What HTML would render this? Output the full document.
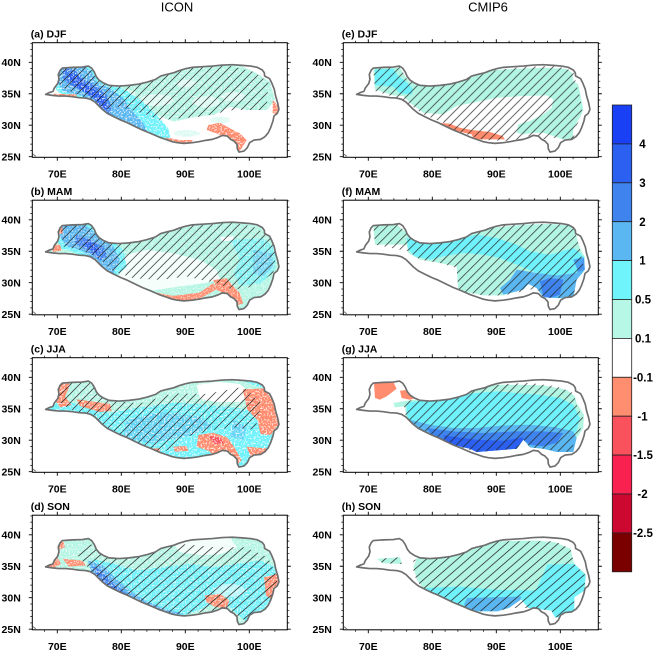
<!DOCTYPE html>
<html><head><meta charset="utf-8"><style>
html,body{margin:0;padding:0;background:#fff;}
svg{display:block;}
text{font-family:"Liberation Sans",Arial,sans-serif;fill:#000;}
.m{fill:#b2f5e2}.c{fill:#6ff2fb}.lb{fill:#5bb7f1}.b3{fill:#3f83ee}.b2{fill:#2b60f0}.r1{fill:#ff8c6e}.r2{fill:#f9525c}.w{fill:#fff}.h{fill:url(#hat)}
.ol{fill:none;stroke:#6e6e6e;stroke-width:5;stroke-linejoin:round}
.lab{font-size:10.5px;font-weight:bold}
</style></head><body>
<svg width="660" height="650" viewBox="0 0 660 650" xmlns="http://www.w3.org/2000/svg">
<defs>
<pattern id="hat" patternUnits="userSpaceOnUse" width="27" height="27"><path d="M-4,4 L4,-4 M0,27 L27,0 M23,31 L31,23" stroke="#222" stroke-width="2.1"/></pattern>
<filter id="spk" filterUnits="userSpaceOnUse" x="0" y="0" width="770" height="350">
<feTurbulence type="fractalNoise" baseFrequency="0.2" numOctaves="2" seed="5" result="n"/>
<feColorMatrix in="n" type="matrix" values="0 0 0 0 1  0 0 0 0 1  0 0 0 0 1  9 0 0 0 -4.8"/>
</filter>
<filter id="spk2" filterUnits="userSpaceOnUse" x="0" y="0" width="770" height="350">
<feTurbulence type="fractalNoise" baseFrequency="0.22" numOctaves="2" seed="11" result="n"/>
<feColorMatrix in="n" type="matrix" values="0 0 0 0 1  0 0 0 0 1  0 0 0 0 1  9 0 0 0 -4.6"/>
</filter>
<clipPath id="tpc"><path d="M40,155 L50,150 62,146 66,136 72,128 76,123 80,110 78,95 84,82 90,76 120,74 150,73 168,70 178,76 186,88 192,102 200,112 212,120 230,128 260,130 290,128 320,124 345,118 370,110 385,100 400,96 425,90 440,84 460,78 480,74 510,72 540,70 570,67 600,66 630,68 655,70 675,74 690,82 696,90 697,100 712,108 718,120 726,140 730,160 736,180 740,200 735,212 725,220 722,235 715,255 708,270 698,282 685,290 665,292 652,300 645,315 635,325 620,328 615,318 614,305 605,295 595,290 585,280 570,278 555,285 540,290 520,293 500,297 480,300 455,302 435,300 420,297 400,290 380,283 355,272 330,262 305,250 285,240 265,232 245,222 225,212 210,200 198,188 188,178 175,170 160,166 140,165 120,162 100,160 80,160 60,158 Z"/></clipPath>
<path id="tpo" class="ol" d="M40,155 L50,150 62,146 66,136 72,128 76,123 80,110 78,95 84,82 90,76 120,74 150,73 168,70 178,76 186,88 192,102 200,112 212,120 230,128 260,130 290,128 320,124 345,118 370,110 385,100 400,96 425,90 440,84 460,78 480,74 510,72 540,70 570,67 600,66 630,68 655,70 675,74 690,82 696,90 697,100 712,108 718,120 726,140 730,160 736,180 740,200 735,212 725,220 722,235 715,255 708,270 698,282 685,290 665,292 652,300 645,315 635,325 620,328 615,318 614,305 605,295 595,290 585,280 570,278 555,285 540,290 520,293 500,297 480,300 455,302 435,300 420,297 400,290 380,283 355,272 330,262 305,250 285,240 265,232 245,222 225,212 210,200 198,188 188,178 175,170 160,166 140,165 120,162 100,160 80,160 60,158 Z"/>
<g id="frm">
<rect x="0" y="0" width="255" height="114.6" fill="none" stroke="#000" stroke-width="1"/>
<path stroke="#000" stroke-width="0.9" fill="none" d="M25,0v-3.5M89,0v-3.5M153,0v-3.5M217,0v-3.5M25,114.6v3.5M89,114.6v3.5M153,114.6v3.5M217,114.6v3.5M0,19.6h-3.5M0,51.05h-3.5M0,82.5h-3.5M0,113.95h-3.5M255,19.6h3.5M255,51.05h3.5M255,82.5h3.5M255,113.95h3.5"/>
<path stroke="#000" stroke-width="0.7" fill="none" d="M12.2,0v-2M37.8,0v-2M50.6,0v-2M63.4,0v-2M76.2,0v-2M101.8,0v-2M114.6,0v-2M127.4,0v-2M140.2,0v-2M165.8,0v-2M178.6,0v-2M191.4,0v-2M204.2,0v-2M229.8,0v-2M242.6,0v-2M12.2,114.6v2M37.8,114.6v2M50.6,114.6v2M63.4,114.6v2M76.2,114.6v2M101.8,114.6v2M114.6,114.6v2M127.4,114.6v2M140.2,114.6v2M165.8,114.6v2M178.6,114.6v2M191.4,114.6v2M204.2,114.6v2M229.8,114.6v2M242.6,114.6v2M0,0.73h-2M0,6.9h-2M0,13.3h-2M0,25.9h-2M0,32.2h-2M0,38.5h-2M0,44.8h-2M0,57.3h-2M0,63.6h-2M0,69.9h-2M0,76.2h-2M0,88.8h-2M0,95.1h-2M0,101.4h-2M0,107.7h-2M255,0.73h2M255,6.9h2M255,13.3h2M255,25.9h2M255,32.2h2M255,38.5h2M255,44.8h2M255,57.3h2M255,63.6h2M255,69.9h2M255,76.2h2M255,88.8h2M255,95.1h2M255,101.4h2M255,107.7h2"/>
<path d="M0.5,111.3 L3.5,113.6" stroke="#777" stroke-width="1" fill="none"/>
</g>
</defs>

<text x="177" y="11.7" font-size="13" text-anchor="middle">ICON</text>
<text x="488" y="11.7" font-size="13" text-anchor="middle">CMIP6</text>

<!-- ===== Panel (a) ===== -->
<g transform="translate(32.3,42.7)">
<g transform="scale(0.33333)">
<g clip-path="url(#tpc)">
<g transform="translate(-97,-128)">
<path class="m" d="M290,215 L400,250 450,235 520,200 600,186 700,186 770,220 810,245 825,300 800,330 740,330 690,320 640,345 580,352 520,365 470,345 420,310 360,268 Z"/>
<g fill="#fff" opacity="0.55"><ellipse cx="470" cy="300" rx="50" ry="18"/><ellipse cx="620" cy="305" rx="40" ry="18"/><ellipse cx="560" cy="250" rx="30" ry="12"/><ellipse cx="700" cy="290" rx="35" ry="15"/><ellipse cx="380" cy="280" rx="25" ry="10"/></g>
<g class="m" opacity="0.45"><ellipse cx="560" cy="400" rx="40" ry="10"/><ellipse cx="660" cy="360" rx="30" ry="10"/></g>
<path class="c" d="M172,200 L260,192 295,215 320,245 380,272 430,305 470,345 505,385 515,425 470,420 420,402 365,380 320,355 290,320 240,292 185,285 165,265 Z"/>
<path class="lb" d="M180,200 L245,195 275,215 290,245 330,265 370,295 395,330 430,370 450,410 410,400 360,370 320,345 290,310 240,285 190,275 175,250 Z"/>
<path class="b3" d="M190,205 L225,208 250,235 290,258 320,285 335,320 330,345 305,330 285,300 250,275 210,255 188,235 Z"/>
<path class="b2" d="M205,220 L230,225 260,255 295,275 318,300 322,330 305,320 285,295 250,272 215,250 Z"/>
<g class="r1"><path d="M625,375 L660,368 690,385 720,400 740,420 725,445 715,455 705,430 680,415 650,400 620,390 Z"/><path d="M495,412 L540,420 580,420 570,430 520,430 Z"/><path d="M818,300 L835,318 832,345 818,338 Z"/><path d="M172,198 L186,204 180,216 Z"/><path d="M160,281 L230,283 228,291 165,289 Z"/></g>
</g>
<rect x="0" y="0" width="770" height="350" fill="#fff" filter="url(#spk)" opacity="0.75"/>
<g transform="translate(-97,-128)">
<path class="h" d="M180,205 L260,195 300,235 400,255 520,200 650,187 760,215 805,245 800,330 700,330 600,350 480,360 430,340 360,320 300,330 250,290 200,270 175,250 Z"/>
</g>
</g>
<use href="#tpo"/>
</g>
<use href="#frm"/>
</g>

<!-- ===== Panel (b) ===== -->
<g transform="translate(32.3,200.2)">
<g transform="scale(0.33333)">
<g clip-path="url(#tpc)">
<g transform="translate(-97,-181)">
<rect class="m" x="-100" y="-100" width="1100" height="800"/>
<path class="w" opacity="0.85" d="M330,380 L380,345 440,330 520,340 600,360 650,390 660,420 600,432 520,442 460,452 400,432 350,410 Z"/>
<path class="w" d="M660,292 L700,290 705,302 665,304 Z"/>
<path class="c" d="M180,245 L250,240 320,290 370,330 380,380 350,410 300,400 270,360 220,335 180,325 170,290 Z"/>
<path class="lb" d="M185,250 L240,245 300,290 340,320 360,360 340,400 310,390 290,360 240,330 200,320 180,290 Z"/>
<path class="b3" d="M230,285 L270,298 310,320 322,350 300,362 262,332 225,310 Z"/>
<path class="b2" d="M250,300 L280,310 300,330 290,340 265,325 Z"/>
<path class="c" opacity="0.7" d="M690,300 L790,295 830,330 825,390 785,430 720,440 700,400 720,360 Z"/>
<path class="lb" opacity="0.5" d="M760,330 L815,340 820,380 790,410 760,400 Z"/>
<g class="r1"><path d="M370,430 L450,455 520,468 600,458 640,430 650,448 600,476 520,486 440,472 375,445 Z"/><path d="M640,420 L680,415 700,440 720,460 730,490 715,495 690,470 650,450 Z"/><path d="M150,318 L180,314 185,332 160,336 Z"/><path d="M175,260 L186,256 189,280 178,283 Z"/></g>
</g>
<rect x="0" y="0" width="770" height="350" fill="#fff" filter="url(#spk2)" opacity="0.55"/>
<g transform="translate(-97,-181)">
<path class="h" d="M180,250 L260,240 300,285 400,280 520,230 650,240 760,260 810,290 830,330 820,400 760,440 700,450 650,430 560,410 480,420 400,415 340,395 290,350 240,330 190,320 Z"/>
</g>
</g>
<use href="#tpo"/>
</g>
<use href="#frm"/>
</g>

<!-- ===== Panel (c) ===== -->
<g transform="translate(32.3,357.7)">
<g transform="scale(0.33333)">
<g clip-path="url(#tpc)">
<g transform="translate(-97,-113)">
<rect class="c" x="-100" y="-100" width="1100" height="800"/>
<g class="lb" opacity="0.5"><path d="M380,300 L480,275 600,290 640,320 560,350 450,370 370,350 Z"/><path d="M290,330 L360,340 380,400 330,400 290,370 Z"/><path d="M700,300 L740,320 730,360 690,350 Z"/></g>
<path class="m" d="M170,185 L250,178 290,200 320,235 400,232 480,200 560,180 700,172 760,195 805,210 812,250 760,272 700,262 600,252 520,248 420,262 330,278 260,262 200,242 165,228 Z"/>
<path class="w" d="M590,195 L650,185 720,192 752,220 722,246 650,246 600,236 Z"/>
<g class="r1"><path d="M172,182 L200,178 210,195 195,230 215,255 180,262 165,240 Z"/><path d="M230,238 L330,252 335,272 300,276 240,258 Z"/><path d="M728,208 L795,205 830,258 838,310 812,345 782,342 772,300 742,268 Z"/><path d="M595,345 L640,338 682,352 702,380 725,420 705,442 665,422 625,392 590,380 Z"/><path d="M740,380 L800,385 805,430 760,430 Z"/><path d="M520,380 L560,378 565,392 525,395 Z"/><path d="M440,385 L480,385 480,395 440,395 Z"/><path d="M280,360 L300,365 305,380 285,378 Z"/></g>
<path class="r2" d="M625,348 L660,352 672,370 645,372 Z"/>
</g>
<rect x="0" y="0" width="770" height="350" fill="#fff" filter="url(#spk)" opacity="0.8"/>
<g transform="translate(-97,-113)">
<path class="h" d="M180,190 L260,180 320,240 420,250 520,220 620,222 730,200 785,250 765,330 700,322 640,330 560,350 500,392 420,398 360,382 320,340 270,292 200,262 170,240 Z"/>
</g>
</g>
<use href="#tpo"/>
</g>
<use href="#frm"/>
</g>

<!-- ===== Panel (d) ===== -->
<g transform="translate(32.3,515.2)">
<g transform="scale(0.33333)">
<g clip-path="url(#tpc)">
<g transform="scale(1.149,1) translate(-85,-104)">
<rect class="m" x="0" y="0" width="900" height="600"/>
<path class="w" opacity="0.8" d="M450,185 L530,175 600,170 620,200 580,220 530,225 470,215 Z"/>
<path class="c" d="M240,235 L300,250 360,270 420,260 500,250 560,260 620,250 680,240 720,260 735,300 720,360 700,420 650,430 620,400 580,360 540,380 480,405 420,405 350,380 300,340 250,290 Z"/>
<ellipse cx="600" cy="330" rx="40" ry="20" fill="#fff" opacity="0.5"/>
<path class="lb" d="M230,240 L270,255 300,290 340,330 380,360 430,385 480,400 420,405 360,390 310,360 270,320 240,280 Z"/>
<path class="b3" d="M240,255 L265,270 290,300 320,330 350,355 340,370 310,345 280,315 255,290 Z"/>
<path class="b2" d="M255,290 L275,305 290,325 280,330 262,310 Z"/>
<path class="b2" d="M320,340 L350,355 345,368 325,355 Z"/>
<g class="r1"><path d="M120,235 L150,230 160,250 140,262 120,260 Z"/><path d="M145,180 L165,178 170,200 150,210 Z"/><path d="M165,235 L215,240 225,255 180,258 Z"/><path d="M535,345 L575,340 600,360 590,385 560,378 540,365 Z"/><path d="M690,290 L725,280 730,320 715,360 695,345 Z"/></g>
</g>
<rect x="0" y="0" width="770" height="350" fill="#fff" filter="url(#spk2)" opacity="0.65"/>
<g transform="scale(1.149,1) translate(-85,-104)">
<path class="h" d="M220,185 L300,215 400,210 470,190 560,200 640,200 700,230 725,290 720,360 700,420 640,420 600,390 560,390 500,400 420,400 350,380 300,340 260,300 230,260 200,220 Z"/>
</g>
</g>
<use href="#tpo"/>
</g>
<use href="#frm"/>
</g>

<!-- ===== Panel (e) ===== -->
<g transform="translate(343.3,42.7)">
<g transform="scale(0.33333)">
<g clip-path="url(#tpc)"><g>
<path class="m" d="M90,78 L170,75 185,100 200,118 230,130 300,128 360,112 400,98 455,82 520,78 600,75 670,78 688,92 690,115 705,125 712,160 720,200 712,220 700,240 690,260 688,290 660,290 630,280 600,270 570,270 540,275 520,270 525,245 560,235 600,215 625,195 630,170 610,158 540,160 460,165 400,178 340,190 300,215 240,210 200,180 180,160 150,158 95,140 Z"/>
<path class="c" d="M95,80 L150,78 165,100 190,118 210,140 205,155 170,152 150,132 120,130 95,128 Z"/>
<path class="r1" d="M285,240 L320,243 350,255 385,262 440,268 478,280 485,290 392,290 385,275 340,265 305,252 286,247 Z"/>
<path class="h" d="M90,76 L170,72 190,108 235,128 300,126 360,112 450,84 540,72 640,70 690,85 698,120 712,170 718,210 700,250 690,290 630,285 600,290 560,280 500,295 420,292 370,275 330,260 300,240 240,215 200,185 150,162 95,145 Z"/>
</g></g>
<use href="#tpo"/>
</g>
<use href="#frm"/>
</g>

<!-- ===== Panel (f) ===== -->
<g transform="translate(343.3,200.2)">
<g transform="scale(0.33333)">
<g clip-path="url(#tpc)"><g transform="translate(0,-6.6)">
<path class="m" d="M90,82 L160,80 185,100 200,118 235,128 300,130 360,118 400,100 460,88 540,80 620,78 690,82 700,100 700,118 710,150 725,178 722,220 700,245 690,280 690,305 635,300 600,298 580,270 555,258 540,275 520,280 480,292 420,292 345,278 340,205 290,195 230,185 195,165 190,140 95,140 Z"/>
<path class="c" d="M190,120 L235,130 300,132 360,120 400,110 460,120 520,140 560,160 620,170 690,150 705,160 722,178 720,215 700,240 640,235 580,225 520,200 470,180 420,170 360,165 300,175 260,185 215,175 195,155 Z"/>
<path class="lb" d="M520,215 L580,225 640,232 700,225 722,180 725,215 700,245 690,300 640,300 600,298 580,270 555,258 540,275 520,280 480,290 470,270 500,245 Z"/>
<path class="b3" d="M590,250 L620,240 660,245 650,290 620,300 600,295 Z"/>
<path class="b3" opacity="0.7" d="M690,185 L722,178 724,215 705,222 Z"/>
<path class="r1" d="M245,232 L260,232 262,238 246,238 Z M285,250 L292,250 292,256 285,256 Z"/>
<path class="h" d="M90,80 L165,78 190,108 235,126 300,128 360,116 460,84 540,76 690,80 700,118 712,160 722,210 700,245 690,300 600,298 580,270 540,280 480,292 420,292 345,278 340,210 290,195 230,185 195,160 95,140 Z"/>
</g></g>
<use href="#tpo"/>
</g>
<use href="#frm"/>
</g>

<!-- ===== Panel (g) ===== -->
<g transform="translate(343.3,357.7)">
<g transform="scale(0.33333)">
<g clip-path="url(#tpc)"><g transform="translate(0,-479)">
<path class="m" d="M150,615 L190,608 250,600 330,585 390,572 450,560 520,560 600,562 670,575 695,595 700,615 722,650 720,690 700,720 690,762 640,762 600,752 560,748 540,725 520,752 400,762 380,752 300,735 260,712 215,695 190,670 185,625 155,628 Z"/>
<path class="c" d="M190,615 L250,605 330,595 400,585 460,580 520,585 590,590 650,600 690,620 710,660 700,700 680,720 640,720 600,705 540,700 480,705 420,710 350,712 290,700 250,690 205,680 190,650 Z"/>
<path class="lb" d="M200,665 L260,680 330,690 400,690 480,682 560,680 640,688 690,700 700,720 690,762 640,762 600,752 560,748 540,725 520,752 400,762 380,752 300,735 260,712 215,695 Z"/>
<path class="b3" d="M250,690 L330,700 420,705 520,700 600,700 660,705 640,735 600,745 560,740 540,725 520,752 400,762 380,752 300,735 265,712 Z"/>
<path class="b2" d="M300,712 L400,725 480,728 540,718 540,725 520,752 400,762 380,752 310,735 Z"/>
<path class="r1" d="M92,555 L150,552 160,572 130,595 110,605 95,600 Z M170,578 L195,575 225,598 200,605 175,600 Z"/>
<path class="h" d="M180,610 L260,600 340,580 420,568 480,558 560,555 640,565 690,585 700,620 720,660 710,700 690,740 690,762 640,760 600,752 560,748 540,725 520,752 400,762 300,735 220,700 190,670 Z"/>
</g></g>
<use href="#tpo"/>
</g>
<use href="#frm"/>
</g>

<!-- ===== Panel (h) ===== -->
<g transform="translate(343.3,515.2)">
<g transform="scale(0.33333)">
<g clip-path="url(#tpc)"><g transform="scale(1.149,1) translate(-897,-104)">
<path class="m" d="M985,235 L1045,230 1050,250 1000,248 Z"/>
<path class="m" d="M1090,230 L1150,210 1200,192 1250,183 1300,182 1400,180 1450,185 1490,205 1500,250 1530,280 1528,330 1500,350 1500,410 1450,410 1440,390 1380,382 1360,355 1330,382 1300,392 1225,392 1200,372 1140,352 1110,330 1090,300 1080,260 Z"/>
<path class="c" d="M1110,322 L1200,318 1300,328 1400,330 1430,252 1500,250 1530,285 1526,330 1500,350 1500,410 1450,410 1440,390 1380,382 1360,355 1330,382 1300,392 1225,392 1200,372 1140,352 Z"/>
<path class="lb" d="M1220,352 L1362,348 1360,358 1330,382 1300,392 1225,392 1212,372 Z"/>
<path class="h" d="M985,235 L1045,230 1050,250 1000,248 Z M1080,240 L1150,210 1250,183 1450,182 1490,205 1500,250 1530,285 1526,330 1500,350 1500,410 1450,410 1440,390 1380,382 1330,382 1300,392 1225,392 1140,352 1100,320 1080,280 Z"/>
</g></g>
<use href="#tpo"/>
</g>
<use href="#frm"/>
</g>

<g class="lab">
<text x="30.8" y="37.7">(a) DJF</text>
<text x="30.8" y="195.2">(b) MAM</text>
<text x="30.8" y="352.7">(c) JJA</text>
<text x="30.8" y="510.2">(d) SON</text>
<text x="341.8" y="37.7">(e) DJF</text>
<text x="341.8" y="195.2">(f) MAM</text>
<text x="341.8" y="352.7">(g) JJA</text>
<text x="341.8" y="510.2">(h) SON</text>
</g>

<g class="lab" text-anchor="end">
<text x="20.8" y="66.1">40N</text><text x="20.8" y="97.55">35N</text><text x="20.8" y="129">30N</text><text x="20.8" y="160.45">25N</text>
<text x="20.8" y="223.6">40N</text><text x="20.8" y="255.05">35N</text><text x="20.8" y="286.5">30N</text><text x="20.8" y="317.95">25N</text>
<text x="20.8" y="381.1">40N</text><text x="20.8" y="412.55">35N</text><text x="20.8" y="444">30N</text><text x="20.8" y="475.45">25N</text>
<text x="20.8" y="538.6">40N</text><text x="20.8" y="570.05">35N</text><text x="20.8" y="601.5">30N</text><text x="20.8" y="632.95">25N</text>
<text x="331.8" y="66.1">40N</text><text x="331.8" y="97.55">35N</text><text x="331.8" y="129">30N</text><text x="331.8" y="160.45">25N</text>
<text x="331.8" y="223.6">40N</text><text x="331.8" y="255.05">35N</text><text x="331.8" y="286.5">30N</text><text x="331.8" y="317.95">25N</text>
<text x="331.8" y="381.1">40N</text><text x="331.8" y="412.55">35N</text><text x="331.8" y="444">30N</text><text x="331.8" y="475.45">25N</text>
<text x="331.8" y="538.6">40N</text><text x="331.8" y="570.05">35N</text><text x="331.8" y="601.5">30N</text><text x="331.8" y="632.95">25N</text>
</g>

<g class="lab" text-anchor="middle">
<text x="57.3" y="177.3">70E</text><text x="121.3" y="177.3">80E</text><text x="185.3" y="177.3">90E</text><text x="249.3" y="177.3">100E</text>
<text x="57.3" y="334.8">70E</text><text x="121.3" y="334.8">80E</text><text x="185.3" y="334.8">90E</text><text x="249.3" y="334.8">100E</text>
<text x="57.3" y="492.3">70E</text><text x="121.3" y="492.3">80E</text><text x="185.3" y="492.3">90E</text><text x="249.3" y="492.3">100E</text>
<text x="57.3" y="649.8">70E</text><text x="121.3" y="649.8">80E</text><text x="185.3" y="649.8">90E</text><text x="249.3" y="649.8">100E</text>
<text x="368.3" y="177.3">70E</text><text x="432.3" y="177.3">80E</text><text x="496.3" y="177.3">90E</text><text x="560.3" y="177.3">100E</text>
<text x="368.3" y="334.8">70E</text><text x="432.3" y="334.8">80E</text><text x="496.3" y="334.8">90E</text><text x="560.3" y="334.8">100E</text>
<text x="368.3" y="492.3">70E</text><text x="432.3" y="492.3">80E</text><text x="496.3" y="492.3">90E</text><text x="560.3" y="492.3">100E</text>
<text x="368.3" y="649.8">70E</text><text x="432.3" y="649.8">80E</text><text x="496.3" y="649.8">90E</text><text x="560.3" y="649.8">100E</text>
</g>

<g stroke="#222" stroke-width="0.8">
<rect x="612.3" y="105" width="19.4" height="38.9" fill="#1a40f5"/>
<rect x="612.3" y="143.9" width="19.4" height="38.9" fill="#2b60f0"/>
<rect x="612.3" y="182.8" width="19.4" height="38.9" fill="#3f83ee"/>
<rect x="612.3" y="221.7" width="19.4" height="38.9" fill="#5ab7f1"/>
<rect x="612.3" y="260.6" width="19.4" height="38.9" fill="#6ff4fb"/>
<rect x="612.3" y="299.5" width="19.4" height="38.9" fill="#b6f7e6"/>
<rect x="612.3" y="338.4" width="19.4" height="38.9" fill="#ffffff"/>
<rect x="612.3" y="377.3" width="19.4" height="38.9" fill="#ff8d6f"/>
<rect x="612.3" y="416.2" width="19.4" height="38.9" fill="#f9525c"/>
<rect x="612.3" y="455.1" width="19.4" height="38.9" fill="#f82150"/>
<rect x="612.3" y="494" width="19.4" height="38.9" fill="#cc0831"/>
<rect x="612.3" y="532.9" width="19.4" height="38.9" fill="#7a0000"/>
</g>
<g font-size="11.5" font-weight="bold" text-anchor="middle">
<text x="642.5" y="148">4</text>
<text x="642.5" y="186.9">3</text>
<text x="642.5" y="225.8">2</text>
<text x="642.5" y="264.7">1</text>
<text x="643" y="303.6">0.5</text>
<text x="643" y="342.5">0.1</text>
<text x="643" y="381.4">-0.1</text>
<text x="642.5" y="420.3">-1</text>
<text x="643" y="459.2">-1.5</text>
<text x="642.5" y="498.1">-2</text>
<text x="643" y="537">-2.5</text>
</g>
</svg>
</body></html>
